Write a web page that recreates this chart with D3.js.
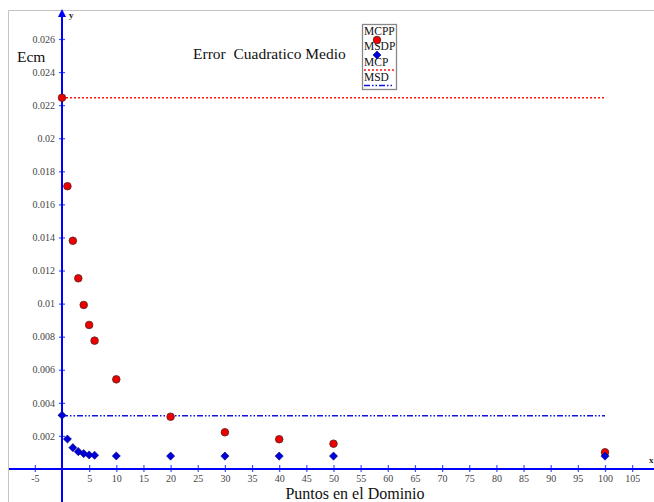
<!DOCTYPE html>
<html>
<head>
<meta charset="utf-8">
<script src="https://cdn.jsdelivr.net/npm/d3@7"></script>
<style>
  body { margin: 0; background: #fff; }
  svg { display: block; }
</style>
</head>
<body>
<div id="chart"></div>
<script>
// puntos en el dominio
const puntos = [0, 1, 2, 3, 4, 5, 6, 10, 20, 30, 40, 50, 100];
// MCPP (rojo) y MSDP (azul)
const mcpp = [0.02245, 0.0171, 0.0138, 0.01153, 0.00992, 0.00871, 0.00776, 0.00542, 0.00316, 0.00222, 0.0018, 0.00153, 0.00101];
const msdp = [0.00325, 0.00181, 0.00129, 0.00105, 0.00093, 0.00085, 0.00083, 0.00079, 0.00078, 0.00078, 0.00078, 0.00078, 0.00078];
// lineas horizontales
const mcp = 0.02245;
const msd = 0.00322;
const xTicks = [-5, 5, 10, 15, 20, 25, 30, 35, 40, 45, 50, 55, 60, 65, 70, 75, 80, 85, 90, 95, 100, 105];
const yTicks = [0.002, 0.004, 0.006, 0.008, 0.01, 0.012, 0.014, 0.016, 0.018, 0.02, 0.022, 0.024, 0.026];

const W = 654, H = 502;
const serif = '"Liberation Serif", "Times New Roman", serif';

const svg = d3.select("#chart").append("svg")
    .attr("width", W)
    .attr("height", H);

const x = d3.scaleLinear().domain([0, 100]).range([62, 605]);
const y = d3.scaleLinear().domain([0, 0.026]).range([469, 39]);

// marco gris
svg.append("line").attr("x1", 8.5).attr("x2", W).attr("y1", 10.5).attr("y2", 10.5)
    .attr("stroke", "#c4c4c4").attr("stroke-width", 1);
svg.append("line").attr("x1", 8.5).attr("x2", 8.5).attr("y1", 10.5).attr("y2", H)
    .attr("stroke", "#c4c4c4").attr("stroke-width", 1);

// ejes
const xAxis = d3.axisBottom(x).tickValues(xTicks).tickSize(3).tickPadding(3)
    .tickFormat(d => String(d));
const xg = svg.append("g").attr("transform", `translate(0,${y(0)})`).call(xAxis)
    .attr("font-family", serif).attr("font-size", 10);
xg.select(".domain").remove();
xg.selectAll(".tick line").attr("y1", -4).attr("stroke", "#3355ff").attr("stroke-width", 1.2);
xg.selectAll(".tick text").attr("fill", "#444");

const yAxis = d3.axisLeft(y).tickValues(yTicks).tickSize(3).tickPadding(4)
    .tickFormat(d => String(+d.toFixed(3)));
const yg = svg.append("g").attr("transform", `translate(${x(0)},0)`).call(yAxis)
    .attr("font-family", serif).attr("font-size", 10);
yg.select(".domain").remove();
yg.selectAll(".tick line").attr("x1", 3).attr("stroke", "#3355ff").attr("stroke-width", 1.2);
yg.selectAll(".tick text").attr("fill", "#444");

svg.append("line").attr("x1", 9).attr("x2", W).attr("y1", y(0)).attr("y2", y(0))
    .attr("stroke", "#0000ff").attr("stroke-width", 2);
svg.append("line").attr("x1", x(0)).attr("x2", x(0)).attr("y1", 14).attr("y2", H)
    .attr("stroke", "#0000ff").attr("stroke-width", 2);
svg.append("path")
    .attr("d", `M${x(0)},9 L${x(0) - 4},17 L${x(0) + 4},17 Z`)
    .attr("fill", "#0000ff");
svg.append("text").attr("x", 69).attr("y", 18).text("y")
    .attr("font-family", serif).attr("font-size", 9).attr("font-weight", "bold").attr("fill", "#222");
svg.append("text").attr("x", 649).attr("y", 463).text("x")
    .attr("font-family", serif).attr("font-size", 9).attr("font-weight", "bold").attr("fill", "#222");

// lineas MCP y MSD
svg.append("line").attr("x1", x(0)).attr("x2", x(100)).attr("y1", y(mcp)).attr("y2", y(mcp))
    .attr("stroke", "#ff1010").attr("stroke-width", 1.6).attr("stroke-dasharray", "2,2");
svg.append("line").attr("x1", x(0)).attr("x2", x(100)).attr("y1", y(msd)).attr("y2", y(msd))
    .attr("stroke", "#1010e0").attr("stroke-width", 1.6).attr("stroke-dasharray", "6,2,1.5,2,1.5,2");

// puntos
const data = puntos.map((p, i) => ({p: p, a: mcpp[i], b: msdp[i]}));

svg.append("g").selectAll("circle").data(data).enter().append("circle")
    .attr("cx", d => x(d.p))
    .attr("cy", d => y(d.a))
    .attr("r", 3.8)
    .attr("fill", "#ee0000")
    .attr("stroke", "#552222")
    .attr("stroke-width", 0.8);

const diamond = d3.symbol().type(d3.symbolDiamond2).size(42);
svg.append("g").selectAll("path").data(data).enter().append("path")
    .attr("d", diamond)
    .attr("transform", d => `translate(${x(d.p)},${y(d.b)})`)
    .attr("fill", "#0000dd")
    .attr("stroke", "#000066")
    .attr("stroke-width", 0.6);

// textos
svg.append("text").attr("x", 193).attr("y", 59).text("Error  Cuadratico Medio")
    .attr("font-family", serif).attr("font-size", 15.5).attr("fill", "#111")
    .style("white-space", "pre");
svg.append("text").attr("x", 17).attr("y", 62).text("Ecm")
    .attr("font-family", serif).attr("font-size", 15.5).attr("fill", "#111");
svg.append("text").attr("x", 355).attr("y", 499).attr("text-anchor", "middle").text("Puntos en el Dominio")
    .attr("font-family", serif).attr("font-size", 16).attr("fill", "#111");

// leyenda
const leg = svg.append("g");
leg.append("rect").attr("x", 362.5).attr("y", 24.5).attr("width", 34).attr("height", 65)
    .attr("fill", "#fff").attr("stroke", "#888").attr("stroke-width", 1.3);
const legNames = ["MCPP", "MSDP", "MCP", "MSD"];
leg.selectAll("text").data(legNames).enter().append("text")
    .attr("x", 364).attr("y", (d, i) => 35 + i * 15.3)
    .attr("font-family", serif).attr("font-size", 11.5).attr("fill", "#111")
    .text(d => d);
leg.append("circle").attr("cx", 377).attr("cy", 40).attr("r", 3.8)
    .attr("fill", "#ee0000").attr("stroke", "#552222").attr("stroke-width", 0.8);
leg.append("path").attr("d", diamond).attr("transform", "translate(377,55)")
    .attr("fill", "#0000dd").attr("stroke", "#000066").attr("stroke-width", 0.6);
leg.append("line").attr("x1", 364).attr("x2", 394).attr("y1", 70).attr("y2", 70)
    .attr("stroke", "#ff1010").attr("stroke-width", 1.6).attr("stroke-dasharray", "2,2");
leg.append("line").attr("x1", 364).attr("x2", 394).attr("y1", 85.5).attr("y2", 85.5)
    .attr("stroke", "#1010e0").attr("stroke-width", 1.6).attr("stroke-dasharray", "6,2,1.5,2,1.5,2");
</script>
</body>
</html>
